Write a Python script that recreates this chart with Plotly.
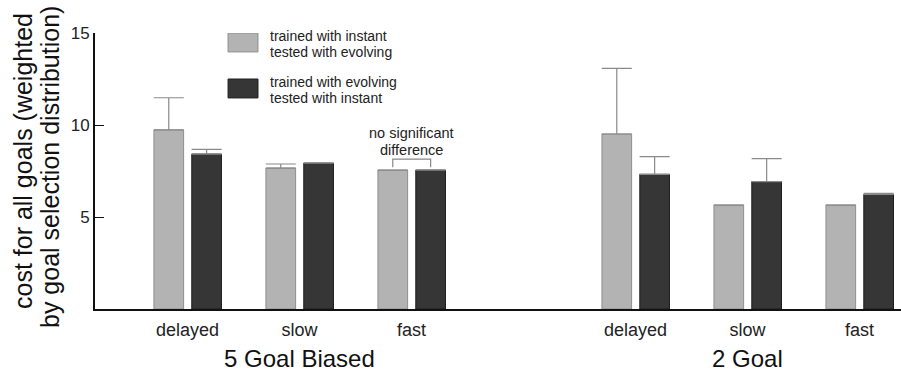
import plotly.graph_objects as go

# ---- data ----
categories = ["delayed", "slow", "fast", "delayed", "slow", "fast"]
cat_pos = [0, 1, 2, 4, 5, 6]
group_labels = ["5 Goal Biased", "2 Goal"]
group_pos = [1, 5]

instant_vals = [9.73, 7.66, 7.55, 9.51, 5.65, 5.65]
instant_err = [1.75, 0.22, 0.0, 3.57, 0.0, 0.0]
evolving_vals = [8.42, 7.93, 7.55, 7.32, 6.92, 6.23]
evolving_err = [0.26, 0.0, 0.0, 0.96, 1.25, 0.06]

series_lines = [["trained with instant", "tested with evolving"],
                ["trained with evolving", "tested with instant"]]
title_lines = ["cost for all goals (weighted", "by goal selection distribution)"]
light = "#b3b3b3"
dark = "#363636"

FONT = "Liberation Sans, Arial, Helvetica, sans-serif"
bw = 0.265

fig = go.Figure()
fig.add_trace(go.Bar(
    x=cat_pos, y=instant_vals, width=bw, offset=-0.30,
    marker=dict(color=light, line=dict(color="#8f8f8f", width=1)),
    error_y=dict(type="data", array=instant_err, arrayminus=[0]*6, symmetric=False,
                 color="#8a8a8a", thickness=1.2, width=15),
    name=" / ".join(series_lines[0]), showlegend=False))
fig.add_trace(go.Bar(
    x=cat_pos, y=evolving_vals, width=bw, offset=0.038,
    marker=dict(color=dark, line=dict(color="#1e1e1e", width=1)),
    error_y=dict(type="data", array=evolving_err, arrayminus=[0]*6, symmetric=False,
                 color="#8a8a8a", thickness=1.2, width=15),
    name=" / ".join(series_lines[1]), showlegend=False))

# legend (drawn manually)
leg = [(series_lines[0], light, "#8f8f8f", 13.97, 15.0, [14.84, 13.97]),
       (series_lines[1], dark, "#1e1e1e", 11.47, 12.5, [12.34, 11.47])]
for lines, col, lc, y0, y1, ys in leg:
    fig.add_shape(type="rect", xref="x", yref="y",
                  x0=0.362, x1=0.629, y0=y0, y1=y1,
                  fillcolor=col, line=dict(color=lc, width=1))
    for t, yy in zip(lines, ys):
        fig.add_annotation(x=0.715, y=yy, xref="x", yref="y", text=t, showarrow=False,
                           xanchor="left", yanchor="middle",
                           font=dict(family=FONT, size=14, color="#222"))

# significance bracket
xa = 2 - 0.30 + bw / 2
xb = 2 + 0.038 + bw / 2
fig.add_shape(type="path", xref="x", yref="y",
              path=f"M {xa},7.7 L {xa},8.14 L {xb},8.14 L {xb},7.7",
              line=dict(color="#888", width=1.2))
for t, yy in zip(["no significant", "difference"], [9.57, 8.64]):
    fig.add_annotation(x=2, y=yy, xref="x", yref="y", text=t,
                       showarrow=False, yanchor="middle",
                       font=dict(family=FONT, size=14.5, color="#222"))

# group labels
for lab, p in zip(group_labels, group_pos):
    fig.add_annotation(x=p, y=-0.178, xref="x", yref="paper", text=lab, showarrow=False,
                       yanchor="middle", font=dict(family=FONT, size=24, color="#111"))

# y-axis title (two rotated lines)
for t, xp, yp in zip(title_lines, [23, 50], [161, 167]):
    fig.add_annotation(x=(xp - 95) / 806, y=(309 - yp) / 276, xref="paper", yref="paper",
                       text=t, textangle=-90, showarrow=False,
                       xanchor="center", yanchor="middle",
                       font=dict(family=FONT, size=25, color="#111"))

fig.update_layout(
    width=901, height=373,
    margin=dict(l=95, r=0, t=33, b=64),
    plot_bgcolor="white", paper_bgcolor="white",
    barmode="overlay",
    font=dict(family=FONT, color="#111"),
    xaxis=dict(range=[-0.826, 6.37], tickvals=cat_pos, ticktext=categories,
               showline=True, linecolor="#111", linewidth=2, ticks="",
               showgrid=False, zeroline=False, automargin=False,
               ticklabelstandoff=3,
               tickfont=dict(size=18, color="#222")),
    yaxis=dict(range=[0, 15], tickvals=[5, 10, 15], showline=True, linecolor="#111",
               linewidth=2, ticks="inside", ticklen=9, tickcolor="#111", tickwidth=1,
               showgrid=False, zeroline=False, automargin=False,
               tickfont=dict(size=17, color="#222")),
)

fig.write_html("out.html", config={"displayModeBar": False},
               post_script="document.body.style.margin='0';")
